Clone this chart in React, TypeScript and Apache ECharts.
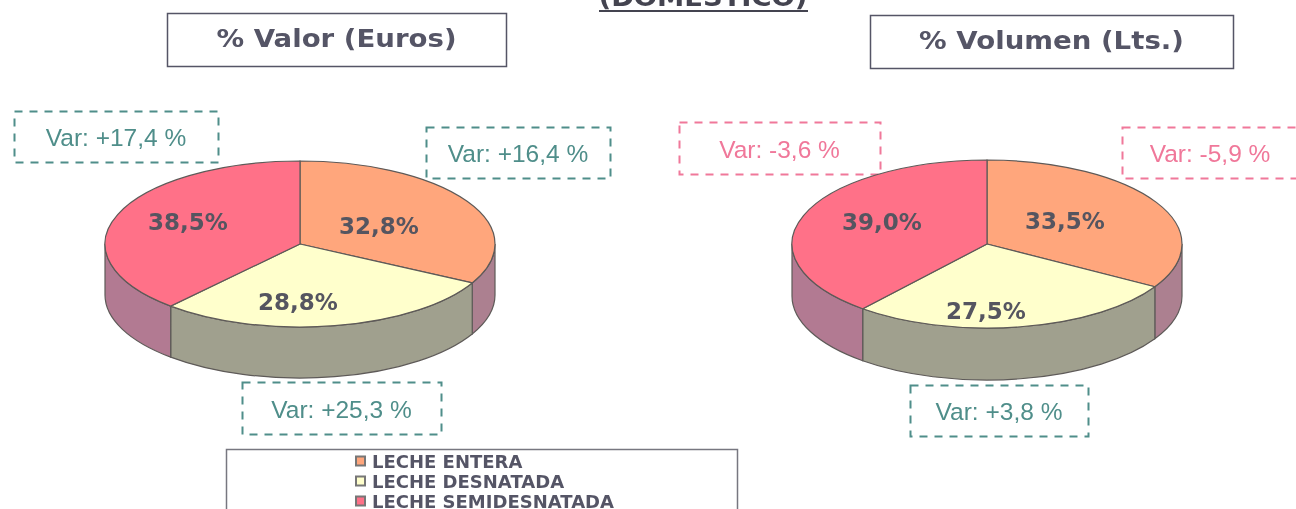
import React, { useEffect, useRef } from "react";
import * as echarts from "echarts";

const categories = ["LECHE ENTERA", "LECHE DESNATADA", "LECHE SEMIDESNATADA"];
const valorShares = [32.8, 28.8, 38.5];
const volumenShares = [33.5, 27.5, 39.0];
const pieTitles = ["% Valor (Euros)", "% Volumen (Lts.)"];
const valorVar = ["Var: +16,4 %", "Var: +25,3 %", "Var: +17,4 %"];
const volumenVar = ["Var: -5,9 %", "Var: +3,8 %", "Var: -3,6 %"];
const mainTitle = "(DOMESTICO)";

const topColors = ["#FFA67C", "#FFFFCC", "#FF7188"];
const wallColors = ["#AC8090", "#A0A08E", "#B27A92"];
const outline = "#5E5A58";
const labelColor = "#555560";
const TEAL = "#4F8E8A";
const PINK = "#F0789A";
const FONT_BOLD = "DejaVu Sans";
const FONT_VAR = "Liberation Sans";

const pies = [
  { shares: valorShares, cx: 300, cy: 244, rx: 195, ry: 83, depth: 51 },
  { shares: volumenShares, cx: 987, cy: 244, rx: 195, ry: 84, depth: 52 },
];
const labelPos = [
  [[379, 226], [298, 302], [188, 222]],
  [[1065, 221], [986, 311], [882, 222]],
];
const titleBoxes = [
  [167, 13, 339, 53],
  [870, 15, 363, 53],
];
const varBoxes = [
  [[426, 127, 184, 51], [242, 382, 199, 52], [14, 111, 204, 51]],
  [[1122, 127, 190, 51], [910, 385, 178, 51], [679, 122, 201, 52]],
];

function pt(p: any, deg: number, dy = 0) {
  const t = (deg * Math.PI) / 180;
  return [p.cx + p.rx * Math.sin(t), p.cy - p.ry * Math.cos(t) + dy];
}
function fmt(v: number) {
  return v.toFixed(1).replace(".", ",") + "%";
}

function sliceSeries(catIdx: number) {
  return {
    type: "custom",
    name: categories[catIdx],
    coordinateSystem: "none",
    silent: true,
    itemStyle: { color: topColors[catIdx], borderColor: "#777", borderWidth: 1 },
    data: pies.map((p, i) => [i, p.shares[catIdx]]),
    renderItem: (_: any, api: any) => {
      const pieIdx = api.value(0);
      const value = api.value(1);
      const p = pies[pieIdx];
      const total = p.shares.reduce((a, b) => a + b, 0);
      const before = p.shares.slice(0, catIdx).reduce((a, b) => a + b, 0);
      const a0 = (before / total) * 360;
      const a1 = ((before + value) / total) * 360;
      const children: any[] = [];
      const w0 = Math.max(a0, 90);
      const w1 = Math.min(a1, 270);
      if (w1 > w0) {
        const s = pt(p, w0);
        const e = pt(p, w1);
        const sd = pt(p, w0, p.depth);
        const ed = pt(p, w1, p.depth);
        children.push({
          type: "path",
          shape: {
            pathData: `M${s[0]} ${s[1]}A${p.rx} ${p.ry} 0 0 1 ${e[0]} ${e[1]}L${ed[0]} ${ed[1]}A${p.rx} ${p.ry} 0 0 0 ${sd[0]} ${sd[1]}Z`,
          },
          style: { fill: wallColors[catIdx], stroke: outline, lineWidth: 1.2 },
        });
      }
      const s = pt(p, a0);
      const e = pt(p, a1);
      const large = a1 - a0 > 180 ? 1 : 0;
      children.push({
        type: "path",
        shape: {
          pathData: `M${p.cx} ${p.cy}L${s[0]} ${s[1]}A${p.rx} ${p.ry} 0 ${large} 1 ${e[0]} ${e[1]}Z`,
        },
        style: { fill: topColors[catIdx], stroke: outline, lineWidth: 1.2 },
      });
      const lp = labelPos[pieIdx][catIdx];
      children.push({
        type: "text",
        z2: 10,
        style: {
          text: fmt(value),
          x: lp[0],
          y: lp[1],
          align: "center",
          verticalAlign: "middle",
          font: `bold 23px "${FONT_BOLD}"`,
          fill: labelColor,
        },
      });
      return { type: "group", children };
    },
  };
}

function boxEl(b: number[], style: any) {
  return {
    type: "rect",
    shape: { x: b[0] + 0.5, y: b[1] + 0.5, width: b[2], height: b[3] },
    style: { fill: "transparent", ...style },
  };
}
function textEl(text: string, x: number, y: number, font: string, fill: string, scaleX = 1) {
  return {
    type: "text",
    x,
    y,
    scaleX,
    style: { text, x: 0, y: 0, font, fill, align: "center", verticalAlign: "middle" },
  };
}

function buildGraphics() {
  const els: any[] = [];
  els.push(textEl(mainTitle, 703, -2, `bold 24px "${FONT_BOLD}"`, "#444450", 1.14));
  els.push({
    type: "line",
    shape: { x1: 599, y1: 11, x2: 808, y2: 11 },
    style: { stroke: "#444450", lineWidth: 2 },
  });
  titleBoxes.forEach((b, i) => {
    els.push(boxEl(b, { stroke: "#555566", lineWidth: 1.5 }));
    els.push(textEl(pieTitles[i], b[0] + b[2] / 2, b[1] + b[3] / 2 - 1, `bold 24px "${FONT_BOLD}"`, "#555566", 1.15));
  });
  [valorVar, volumenVar].forEach((list, i) => {
    list.forEach((t, j) => {
      const b = varBoxes[i][j];
      const color = t.indexOf("+") >= 0 ? TEAL : PINK;
      els.push(boxEl(b, { stroke: color, lineWidth: 2, lineDash: [8, 7] }));
      els.push(textEl(t, b[0] + b[2] / 2 + (i === 1 && j === 0 ? -7 : 0), b[1] + b[3] / 2 + 1, `24.5px "${FONT_VAR}"`, color));
    });
  });
  els.push(boxEl([226, 449, 511, 80], { stroke: "#777780", lineWidth: 1.5 }));
  return els;
}

export default function App() {
  const ref = useRef<HTMLDivElement>(null);
  useEffect(() => {
    document.body.style.margin = "0";
    document.body.style.overflow = "hidden";
    const chart = echarts.init(ref.current!, undefined, { renderer: "svg" });
    chart.setOption({
      animation: false,
      backgroundColor: "#ffffff",
      legend: {
        orient: "vertical",
        left: 355,
        top: 452,
        height: 100,
        padding: 0,
        itemWidth: 9,
        itemHeight: 9,
        itemGap: 2,
        icon: "rect",
        selectedMode: false,
        data: categories,
        textStyle: {
          fontFamily: FONT_BOLD,
          fontWeight: "bold",
          fontSize: 18,
          lineHeight: 17,
          color: "#555566",
          padding: [0, 0, 0, 2],
        },
      },
      series: categories.map((_, i) => sliceSeries(i)),
      graphic: { elements: buildGraphics() },
    });
    return () => chart.dispose();
  }, []);
  return (
    <div
      ref={ref}
      style={{ position: "absolute", left: 0, top: 0, width: 1296, height: 509, overflow: "hidden", filter: "blur(0.5px)" }}
    />
  );
}
